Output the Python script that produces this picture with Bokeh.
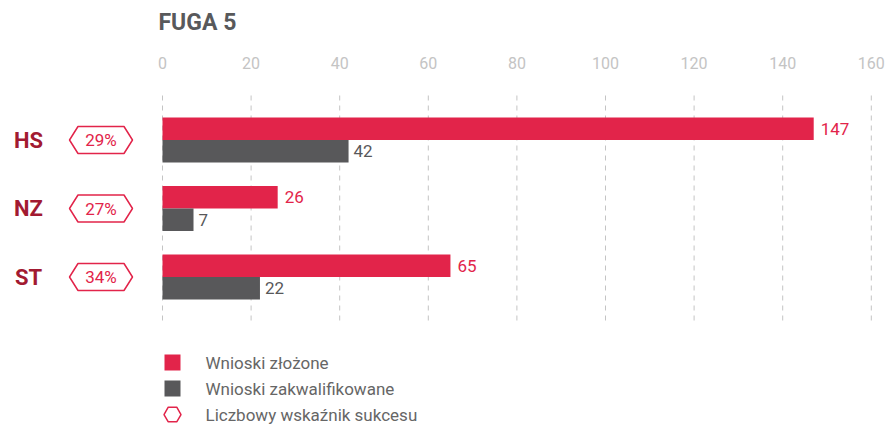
from bokeh.plotting import figure
from bokeh.models import Range1d, Label, ColumnDataSource
from bokeh.core.properties import value
from bokeh.embed import file_html
from bokeh.resources import INLINE

# ---- data ----
categories = ["HS", "NZ", "ST"]
submitted = [147, 26, 65]          # Wnioski złożone
qualified = [42, 7, 22]            # Wnioski zakwalifikowane
success = ["29%", "27%", "34%"]    # Liczbowy wskaźnik sukcesu
ticks = [0, 20, 40, 60, 80, 100, 120, 140, 160]
tick_labels = [str(t) for t in ticks]
title_text = "FUGA 5"
legend_labels = ["Wnioski złożone", "Wnioski zakwalifikowane", "Liczbowy wskaźnik sukcesu"]

# ---- layout constants (pixels) ----
W, H = 885, 426
PX_X = 4.43       # px per unit on x
X0 = 162          # px position of x=0
PX_Y = 68.5       # px per category
Y0 = 139.5        # px position of first category centre

RED = "#e2244a"
GREY = "#58585a"
DARK_RED = "#a21a31"
TICK_GREY = "#c4c4c4"
TEXT_GREY = "#666666"
FONT = "Roboto"


def dx(px):
    return (px - X0) / PX_X


def dy(py):
    return (py - Y0) / PX_Y


p = figure(width=W, height=H, x_range=Range1d(dx(0), dx(W)),
           y_range=Range1d(dy(H), dy(0)),
           output_backend="svg", toolbar_location=None, min_border=0,
           x_axis_location=None, y_axis_location=None)
p.grid.visible = False
p.outline_line_color = None
p.background_fill_color = "white"

ypos = list(range(len(categories)))
off = 11.25 / PX_Y
bh = 22.5 / PX_Y

# grid lines
p.segment(x0=ticks, x1=ticks, y0=[dy(95)] * len(ticks), y1=[dy(325)] * len(ticks),
          line_color=TICK_GREY, line_width=1, line_dash="5 5")

# tick labels
p.text(x=ticks, y=[dy(62)] * len(ticks), text=tick_labels, text_align="center",
       text_baseline="middle", text_font=value(FONT), text_font_size="16px",
       text_color=TICK_GREY)

# bars
src = ColumnDataSource(dict(
    y_red=[y - off for y in ypos], y_grey=[y + off for y in ypos],
    sub=submitted, qual=qualified,
    sub_lbl=[str(v) for v in submitted], qual_lbl=[str(v) for v in qualified],
))
p.hbar(y="y_red", left=0, right="sub", height=bh, source=src,
       fill_color=RED, line_color=None)
p.hbar(y="y_grey", left=0, right="qual", height=bh, source=src,
       fill_color=GREY, line_color=None)

p.text(x="sub", y="y_red", text="sub_lbl", source=src, x_offset=7,
       text_baseline="middle", text_font=value(FONT), text_font_size="17px",
       text_color=RED)
p.text(x="qual", y="y_grey", text="qual_lbl", source=src, x_offset=5,
       text_baseline="middle", text_font=value(FONT), text_font_size="17px",
       text_color=GREY)

# category labels
p.text(x=[dx(28)] * len(categories), y=ypos, text=categories, text_align="center",
       text_baseline="middle", text_font=value(FONT), text_font_size="22px",
       text_font_style="bold", text_color=DARK_RED)

# hexagon badges
hx = dx(100.5)
hw = 31.5 / PX_X
hi = 8.5 / PX_X
hh = 13.5 / PX_Y
xs, ys = [], []
for y in ypos:
    xs.append([hx - hw, hx - hw + hi, hx + hw - hi, hx + hw, hx + hw - hi, hx - hw + hi])
    ys.append([y, y - hh, y - hh, y, y + hh, y + hh])
p.patches(xs=xs, ys=ys, fill_color="white", line_color=RED, line_width=1.5)
p.text(x=[hx] * len(ypos), y=ypos, text=success, text_align="center",
       text_baseline="middle", text_font=value(FONT), text_font_size="17px",
       text_color=RED)

# legend (drawn manually)
leg_y = [dy(362), dy(388), dy(414)]
leg_x = dx(172)
p.scatter(x=[leg_x, leg_x], y=leg_y[:2], marker="square", size=16,
          fill_color=[RED, GREY], line_color=None)
p.scatter(x=[leg_x], y=leg_y[2:], marker="hex", size=17, fill_color="white",
          line_color=RED, line_width=1.5)
p.text(x=[dx(205)] * 3, y=leg_y, text=legend_labels, text_baseline="middle",
       text_font=value(FONT), text_font_size="17px", text_color=TEXT_GREY)

# title
p.add_layout(Label(x=158, y=H - 22, x_units="screen", y_units="screen",
                   text=title_text, text_font=FONT, text_font_size="23px",
                   text_font_style="bold", text_color="#58595b",
                   text_baseline="middle"))

open("out.html", "w").write(file_html(p, INLINE))
